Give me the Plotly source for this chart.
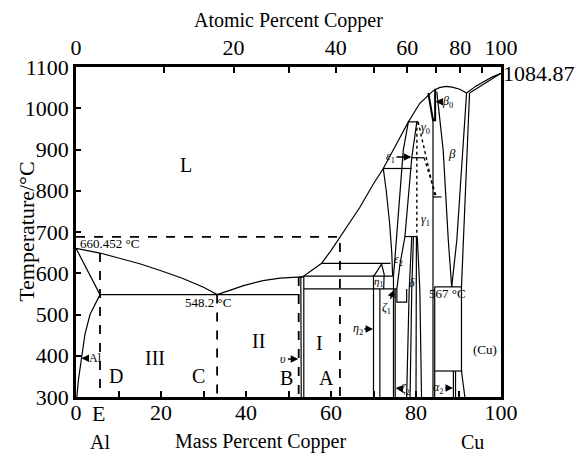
import plotly.graph_objects as go

# ---------------- data (mass % Cu, temperature degC) ----------------
LIQ_X = [0, 5.65, 10, 15, 20, 25, 30, 33.2, 36, 39.4, 44, 48, 51, 53.3, 55.5, 57.8, 60, 62.1,
         64.5, 66.8, 70, 72.3, 75.5, 78.2, 80.9, 82.9, 84.0, 85.5, 87.0, 88.5, 90.3, 91.9]
LIQ_T = [660.452, 649, 637, 623, 606, 588, 566, 548.2, 558, 570, 582, 588, 590, 591, 607, 624, 655, 688,
         725, 760, 817, 854, 915, 967, 1012, 1032, 1042, 1050, 1053, 1051, 1046, 1037]
CU_LIQ_X = [91.9, 94, 96, 98, 100]
CU_LIQ_T = [1037, 1053, 1065, 1076, 1084.87]
CU_SOL_X = [92.6, 94.5, 96.5, 98.3, 100]
CU_SOL_T = [1037, 1050, 1062, 1074, 1084.87]
AL_SOLIDUS_X = [0, 5.65]
AL_SOLIDUS_T = [660.452, 548.2]
AL_SOLVUS_X = [5.65, 3.3, 2.1, 1.3, 0.55, 0.2]
AL_SOLVUS_T = [548.2, 500, 452, 400, 340, 300]

# solid boundary lines: (x list, T list)
SOLID_LINES = {
    "eutectic":   ([5.65, 52.6], [548.2, 548.2]),
    "theta_top":  ([52.4, 53.6], [591, 591]),
    "theta_l":    ([52.9, 52.9, 53.0], [591, 548.2, 300]),
    "theta_r":    ([53.6, 53.6], [594, 300]),
    "h594":       ([53.6, 74.7], [593, 593]),
    "h562":       ([53.6, 75.5], [562, 562]),
    "h624":       ([57.8, 74.0], [624, 624]),
    "eta1":       ([70.0, 70.0, 70.4, 71.9, 72.5, 72.4], [300, 594, 598, 622, 598, 562]),
    "eta2_r":     ([71.5, 71.5], [300, 562]),
    "zeta_l":     ([74.7, 74.7], [300, 594]),
    "zeta_r":     ([75.1, 75.1], [300, 562]),
    "zeta_box":   ([75.5, 75.5, 77.8, 77.8], [562, 530, 530, 562]),
    "eps_l":      ([72.3, 73.0, 73.8, 74.3, 74.5], [854, 800, 720, 650, 594]),
    "eps_r":      ([78.2, 77.0, 75.0, 74.7], [967, 898, 630, 594]),
    "gam_l":      ([80.2, 79.0, 77.4, 76.2, 75.5], [967, 880, 689, 620, 562]),
    "h854":       ([72.3, 79.0], [854, 854]),
    "h880":       ([79.0, 81.9], [880, 880]),
    "h967":       ([78.2, 80.5], [967, 967]),
    "h689":       ([77.4, 80.2], [689, 689]),
    "delta_l":    ([77.8, 78.4, 79.0], [300, 560, 689]),
    "delta_r":    ([78.6, 79.0, 79.4], [300, 560, 689]),
    "gam1_r1":    ([80.0, 80.0, 80.1], [300, 560, 689]),
    "gam1_r2":    ([81.3, 80.9, 80.3], [300, 560, 689]),
    "h785":       ([84.0, 86.0], [785, 785]),
    "beta_lv":    ([84.0, 84.0], [975, 300]),
    "v_left":     ([84.9, 86.4, 87.6, 88.4], [1040, 898, 680, 567]),
    "v_right":    ([91.9, 91.0, 89.6, 88.4], [1037, 898, 680, 567]),
    "cu_bound":   ([92.6, 92.0, 91.0, 90.7, 90.7, 91.1, 91.5], [1037, 900, 650, 567, 363, 330, 300]),
    "h567":       ([84.4, 90.7], [567, 567]),
    "box_l":      ([84.4, 84.4], [567, 300]),
    "h363":       ([84.4, 90.9], [363, 363]),
    "alpha2_a":   ([88.8, 88.8], [363, 300]),
    "alpha2_b":   ([89.3, 89.3], [363, 300]),
}
BETA0_X = [82.9, 84.0, 84.5, 84.5]
BETA0_T = [1037, 971, 971, 1047]
DASHED_LINES = {
    "E": ([5.65, 5.65], [649, 300]),
    "C": ([33.2, 33.2], [548.2, 300]),
    "B": ([52.4, 52.4], [591, 300]),
    "A": ([0, 62.1, 62.1], [688, 688, 300]),
}
DOTTED_LINES = {
    "g_vert": ([80.2, 80.2], [967, 689]),
    "g_d1":   ([80.5, 84.5], [967, 785]),
    "g_d2":   ([81.9, 84.8], [880, 785]),
}

# ticks
MASS_TICKS = list(range(0, 101, 10))
AT_TICKS = list(range(0, 101, 10))
T_TICKS = list(range(300, 1101, 100))

# region labels: (text, x, T, size)
LABELS = [
    ("L", 25.8, 862, 20),
    ("III", 18.6, 395, 20), ("II", 42.9, 436, 20), ("I", 57.2, 432, 20),
    ("D", 9.4, 351, 20), ("C", 28.8, 351, 20), ("B", 49.6, 347, 20), ("A", 59.0, 347, 20),
    ("548.2 °C", 31.1, 529, 13), ("567 °C", 87.5, 551, 13), ("(Cu)", 96.2, 416, 13),
    ("<i>η</i><sub>1</sub>", 71.2, 578, 11), ("<i>δ</i>", 79.1, 576, 12),
    ("<i>ε</i><sub>2</sub>", 75.9, 632, 12), ("<i>γ</i><sub>0</sub>", 82.3, 951, 12),
    ("<i>γ</i><sub>1</sub>", 82.3, 730, 12), ("<i>β</i>", 88.4, 890, 13),
]
# arrow labels: (text, text_x, text_T, tip_x, tip_T)
ARROWS = [
    ("Al", 4.7, 394, 1.3, 394),
    ("<i>υ</i>", 48.8, 392, 52.3, 392),
    ("<i>η</i><sub>2</sub>", 66.3, 465, 69.9, 465),
    ("<i>ζ</i><sub>1</sub>", 73.0, 515, 74.9, 560),
    ("<i>ζ</i><sub>2</sub>", 77.6, 319, 75.2, 322),
    ("<i>α</i><sub>2</sub>", 85.3, 322, 88.7, 322),
    ("<i>ε</i><sub>1</sub>", 74.0, 882, 78.9, 882),
    ("<i>β</i><sub>0</sub>", 87.5, 1016, 84.6, 1016),
]

FONT = "Liberation Serif, Times New Roman, serif"
TICK_SIZE = 22


def at_to_mass(a):
    cu, al = 63.546, 26.9815
    return 100.0 * a * cu / (a * cu + (100 - a) * al)


fig = go.Figure()


def add(xs, ts, dash="solid", width=1.2):
    fig.add_trace(go.Scatter(x=xs, y=ts, mode="lines", showlegend=False, hoverinfo="skip",
                             line=dict(color="black", width=width, dash=dash)))


add(LIQ_X, LIQ_T)
add(CU_LIQ_X, CU_LIQ_T)
add(CU_SOL_X, CU_SOL_T)
add(AL_SOLIDUS_X, AL_SOLIDUS_T)
add(AL_SOLVUS_X, AL_SOLVUS_T)
for xs, ts in SOLID_LINES.values():
    add(xs, ts)
add(BETA0_X, BETA0_T, width=2.0)
for xs, ts in DASHED_LINES.values():
    add(xs, ts, dash="dash", width=1.8)
for xs, ts in DOTTED_LINES.values():
    add(xs, ts, dash="dot", width=1.4)

# invisible trace for top axis
fig.add_trace(go.Scatter(x=[0, 100], y=[300, 300], xaxis="x2", mode="lines",
                         line=dict(width=0), showlegend=False, hoverinfo="skip"))

ann = []
for text, x, t, s in LABELS:
    ann.append(dict(text=text, x=x, y=t, xref="x", yref="y", showarrow=False,
                    font=dict(family=FONT, size=s, color="black")))
for text, tx, tt, px, pt in ARROWS:
    ann.append(dict(text=text, x=px, y=pt, ax=tx, ay=tt, xref="x", yref="y",
                    axref="x", ayref="y", showarrow=True, arrowhead=2, arrowsize=1,
                    arrowwidth=1.5, arrowcolor="black", standoff=0,
                    font=dict(family=FONT, size=12, color="black")))
ann += [
    dict(text="660.452 °C", x=0.5, y=673, xref="x", yref="y", xanchor="left", showarrow=False,
         font=dict(family=FONT, size=13, color="black")),
    dict(text="1084.87", x=1.0, y=1084.87, xref="paper", yref="y", xanchor="left", showarrow=False,
         font=dict(family=FONT, size=TICK_SIZE, color="black")),
    dict(text="Atomic Percent Copper", x=0.5, y=1.142, xref="paper", yref="paper",
         yanchor="middle", showarrow=False, font=dict(family=FONT, size=20, color="black")),
    dict(text="Mass Percent Copper", x=0.433, y=-0.135, xref="paper", yref="paper",
         yanchor="middle", showarrow=False, font=dict(family=FONT, size=20, color="black")),
    dict(text="Al", x=0.028, y=-0.135, xref="paper", yref="paper", yanchor="middle",
         showarrow=False, font=dict(family=FONT, size=20, color="black")),
    dict(text="Cu", x=0.965, y=-0.135, xref="paper", yref="paper", yanchor="middle",
         showarrow=False, font=dict(family=FONT, size=20, color="black")),
    dict(text="E", x=5.2, y=-0.006, xref="x", yref="paper", yanchor="top", showarrow=False,
         font=dict(family=FONT, size=TICK_SIZE, color="black")),
    dict(text="Temperature/°C", x=-0.118, y=0.5, xref="paper", yref="paper", textangle=-90,
         xanchor="center", yanchor="middle",
         showarrow=False, font=dict(family=FONT, size=22, color="black")),
]

axis_common = dict(showgrid=False, zeroline=False, showline=True, linecolor="black", linewidth=2.5,
                   ticks="inside", tickcolor="black", tickwidth=1.5,
                   tickfont=dict(family=FONT, size=TICK_SIZE, color="black"))

fig.update_layout(
    width=578, height=461,
    margin=dict(l=76, r=77, t=67, b=64),
    paper_bgcolor="white", plot_bgcolor="white",
    annotations=ann,
    xaxis=dict(range=[0, 100], tickvals=MASS_TICKS,
               ticktext=[str(v) if v % 20 == 0 else "" for v in MASS_TICKS],
               ticklen=6, ticklabelstandoff=-6, **axis_common),
    xaxis2=dict(range=[0, 100], overlaying="x", side="top",
                tickvals=[at_to_mass(a) for a in AT_TICKS],
                ticktext=[str(a) if a % 20 == 0 else "" for a in AT_TICKS],
                ticklen=6, **axis_common),
    yaxis=dict(range=[300, 1100], tickvals=T_TICKS, ticklen=5, mirror=True, **axis_common),
)

fig.write_html("out.html")
